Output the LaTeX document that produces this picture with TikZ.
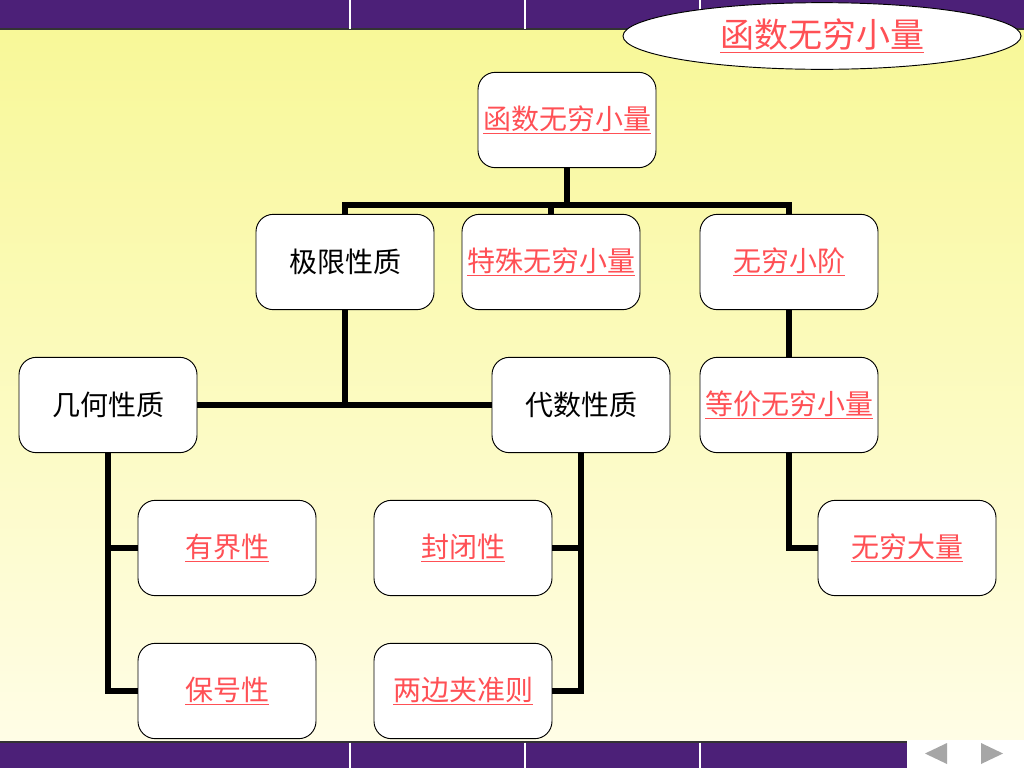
\documentclass[tikz,border=0pt]{standalone}
\usepackage{fontspec}
\setmainfont{Noto Sans CJK SC}
\usetikzlibrary{positioning,shapes.geometric}
\definecolor{linkred}{RGB}{255,80,85}
\definecolor{barpurple}{RGB}{76,32,120}
\definecolor{bgtop}{RGB}{248,248,152}
\definecolor{bgbot}{RGB}{255,253,230}
\newcommand{\lnk}[1]{\textcolor{linkred}{\underline{#1}}}

\tikzset{
  box/.style={draw, fill=white, line width=.7pt, rounded corners=13pt,
    minimum width=133.5pt, minimum height=71.5pt, font=\fontsize{21}{25}\selectfont},
  link/.style={line width=4.5pt},
  bar/.style={fill=barpurple},
}

\begin{document}
\begin{tikzpicture}[x=.75pt, y=-.75pt]
\useasboundingbox (0,0) rectangle (1024,768);
\shade[top color=bgtop, bottom color=bgbot] (0,29) rectangle (1024,742);
\fill[bar] (0,0) rectangle (1024,29);
\fill[bar] (0,742) rectangle (907,768);
\draw[black!80, line width=1pt] (0,29) -- (1024,29) (0,742) -- (907,742);
\foreach \x in {350,525,700} {
  \draw[white, line width=.8pt] (\x,0) -- (\x,28.5);
  \draw[white, line width=.8pt] (\x,742.5) -- (\x,768);
}
\fill[white] (907,740) rectangle (1024,768);
\fill[gray!70] (925,753.5) -- (947,743) -- (947,764) -- cycle;
\fill[gray!70] (981,743) -- (1003,753.5) -- (981,764) -- cycle;

\node[ellipse, draw, fill=white, line width=.7pt, minimum width=298.5pt, minimum height=50pt,
  font=\fontsize{25.5}{30}\selectfont] (title) at (822,36) {\lnk{函数无穷小量}};

\node[box] (top) at (567,120) {\lnk{函数无穷小量}};
\node[box] (lim) at (345,262) {极限性质};
\node[box] (spec) at (551,262) {\lnk{特殊无穷小量}};
\node[box] (ord) at (789,262) {\lnk{无穷小阶}};
\node[box] (geo) at (108,405) {几何性质};
\node[box] (alg) at (581,405) {代数性质};
\node[box] (equ) at (789,405) {\lnk{等价无穷小量}};
\node[box] (bnd) at (227,548) {\lnk{有界性}};
\node[box] (cls) at (463,548) {\lnk{封闭性}};
\node[box] (inf) at (907,548) {\lnk{无穷大量}};
\node[box] (sgn) at (227,691) {\lnk{保号性}};
\node[box] (sqz) at (463,691) {\lnk{两边夹准则}};

\coordinate (j) at (567,205);
\draw[link] (top.south) -- (j);
\draw[link] (lim.north) |- (j) -| (ord.north);
\draw[link] (spec.north) -- (spec.north |- j);
\draw[link] (geo.east) -- (alg.west);
\draw[link] (lim.south) -- (lim.south |- geo.east);
\draw[link] (ord.south) -- (equ.north);
\draw[link] (equ.south) |- (inf.west);
\draw[link] (geo.south) |- (bnd.west);
\draw[link] (geo.south) |- (sgn.west);
\draw[link] (alg.south) |- (cls.east);
\draw[link] (alg.south) |- (sqz.east);
\end{tikzpicture}
\end{document}
